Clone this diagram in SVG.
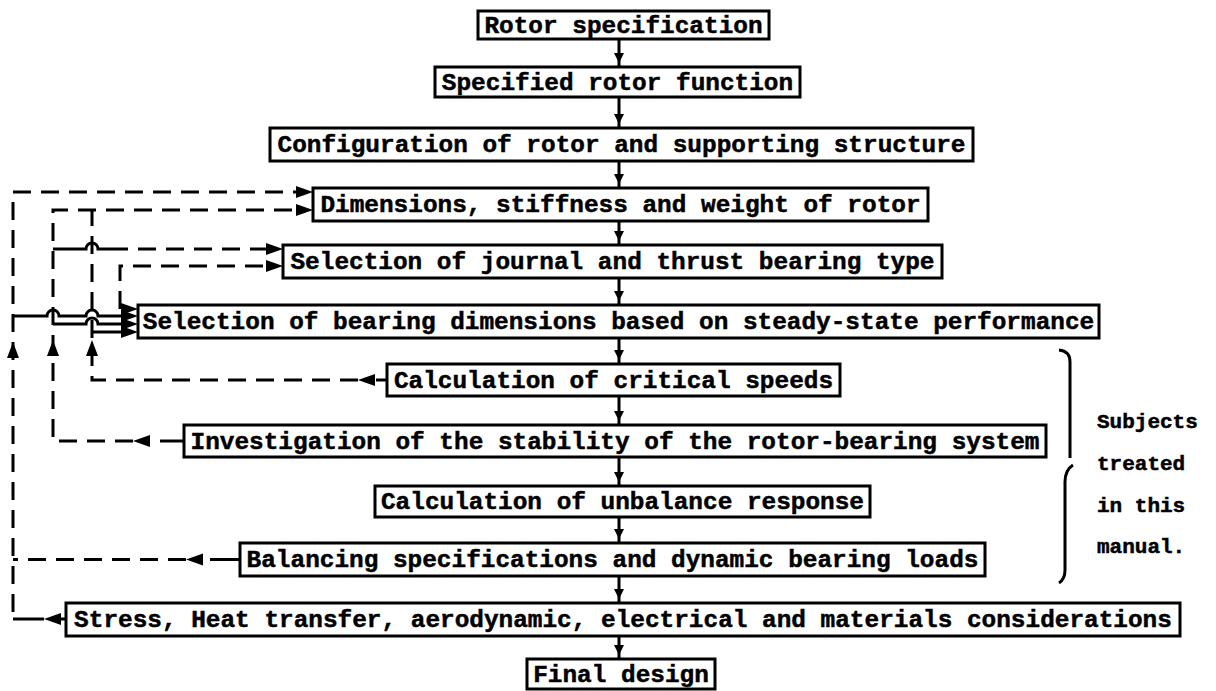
<svg xmlns="http://www.w3.org/2000/svg" xmlns:xlink="http://www.w3.org/1999/xlink" width="1216" height="691" viewBox="0 0 1216 691">
<style>
.bg{fill:#fff}
.box{fill:#fff;stroke:#000;stroke-width:3}
.t{font-family:"Liberation Mono","DejaVu Sans Mono",monospace;font-weight:bold;font-size:24.4px;fill:#000;stroke:#000;stroke-width:0.5;text-anchor:middle}
.side{font-family:"Liberation Mono","DejaVu Sans Mono",monospace;font-weight:bold;font-size:21px;fill:#000;stroke:#000;stroke-width:0.5}
.ln{fill:none;stroke:#000;stroke-width:3}
.dash{fill:none;stroke:#000;stroke-width:3;stroke-dasharray:18 10}
.ah{fill:#000}
</style>
<defs>
<path id="aR" class="ah" d="M0,0 L-17,-6 L-17,6 Z"/>
<path id="aL" class="ah" d="M0,0 L17,-6 L17,6 Z"/>
<path id="aU" class="ah" d="M0,0 L-6,16 L6,16 Z"/>
<path id="aD" class="ah" d="M0,0 L-5,-10 L5,-10 Z"/>
</defs>
<rect class="bg" x="0" y="0" width="1216" height="691"/>

<g id="connectors">
  <!-- main vertical flow -->
  <path class="ln" d="M619,39V67M619,97V128M619,161V188M619,221V245M619,278V305M619,338V364M619,396V425M619,457V486M619,517V543M619,576V603M619,636V659"/>
  <use xlink:href="#aD" x="619" y="63"/>
  <use xlink:href="#aD" x="619" y="124"/>
  <use xlink:href="#aD" x="619" y="184"/>
  <use xlink:href="#aD" x="619" y="241"/>
  <use xlink:href="#aD" x="619" y="301"/>
  <use xlink:href="#aD" x="619" y="360"/>
  <use xlink:href="#aD" x="619" y="421"/>
  <use xlink:href="#aD" x="619" y="482"/>
  <use xlink:href="#aD" x="619" y="539"/>
  <use xlink:href="#aD" x="619" y="599"/>
  <use xlink:href="#aD" x="619" y="655"/>

  <!-- Feedback line A (outermost, x=13): Stress and Balancing -> Dimensions, Bearing dims -->
  <path class="ln" d="M13,619H44M60,619H66"/>
  <path class="dash" d="M13,612V192H297"/>
  <use xlink:href="#aL" x="44" y="619"/>
  <use xlink:href="#aR" x="313" y="192"/>
  <use xlink:href="#aU" x="13" y="342"/>
  <path class="dash" d="M186,559.5H13"/>
  <path class="ln" d="M210,559.5H240"/>
  <use xlink:href="#aL" x="186" y="559.5"/>
  <path class="ln" d="M13,316H47A6,6 0 0 1 59,316H86A6,6 0 0 1 98,316H104"/>
  <path class="dash" d="M104,316H121"/>
  <use xlink:href="#aR" x="138" y="316"/>

  <!-- Feedback line B (x=53): Investigation -> Dimensions, Journal, Bearing dims -->
  <path class="dash" d="M133,441H53V210H297"/>
  <path class="ln" d="M160,441H184"/>
  <use xlink:href="#aL" x="133" y="441"/>
  <use xlink:href="#aR" x="313" y="210"/>
  <use xlink:href="#aU" x="53" y="340"/>
  <path class="ln" d="M53,249H86A6,6 0 0 1 98,249H110"/>
  <path class="dash" d="M110,249H267"/>
  <use xlink:href="#aR" x="283" y="249"/>
  <path class="ln" d="M53,324H86A6,6 0 0 1 98,324H121"/>
  <use xlink:href="#aR" x="138" y="324"/>

  <!-- Feedback line C (x=92): Critical speeds -> Dimensions, Bearing dims -->
  <path class="dash" d="M358,380H92V210"/>
  <path class="ln" d="M376,380H387"/>
  <use xlink:href="#aL" x="358" y="380"/>
  <use xlink:href="#aU" x="92" y="340"/>
  <path class="ln" d="M92,332H121"/>
  <use xlink:href="#aR" x="138" y="332"/>

  <!-- Line D (x=120): Journal and Bearing dims -->
  <path class="dash" d="M120,309V266H267"/>
  <use xlink:href="#aR" x="283" y="266"/>
  <use xlink:href="#aR" x="138" y="309"/>
</g>

<g id="n1"><rect class="box" x="478" y="11" width="291" height="28"/><text class="t" x="623.5" y="33">Rotor specification</text></g>
<g id="n2"><rect class="box" x="435" y="67" width="365" height="30"/><text class="t" x="617.5" y="90">Specified rotor function</text></g>
<g id="n3"><rect class="box" x="270" y="128" width="703" height="33"/><text class="t" x="621.5" y="152">Configuration of rotor and supporting structure</text></g>
<g id="n4"><rect class="box" x="313" y="188" width="615" height="33"/><text class="t" x="620.5" y="212">Dimensions, stiffness and weight of rotor</text></g>
<g id="n5"><rect class="box" x="283" y="245" width="659" height="33"/><text class="t" x="612.5" y="269">Selection of journal and thrust bearing type</text></g>
<g id="n6"><rect class="box" x="138" y="305" width="961" height="33"/><text class="t" x="618.5" y="329">Selection of bearing dimensions based on steady-state performance</text></g>
<g id="n7"><rect class="box" x="387" y="364" width="453" height="32"/><text class="t" x="613.5" y="388">Calculation of critical speeds</text></g>
<g id="n8"><rect class="box" x="184" y="425" width="862" height="32"/><text class="t" x="615" y="449">Investigation of the stability of the rotor-bearing system</text></g>
<g id="n9"><rect class="box" x="375" y="486" width="495" height="31"/><text class="t" x="622.5" y="509">Calculation of unbalance response</text></g>
<g id="n10"><rect class="box" x="240" y="543" width="745" height="33"/><text class="t" x="612.5" y="567">Balancing specifications and dynamic bearing loads</text></g>
<g id="n11"><rect class="box" x="66" y="603" width="1114" height="33"/><text class="t" x="623" y="627">Stress, Heat transfer, aerodynamic, electrical and materials considerations</text></g>
<g id="n12"><rect class="box" x="527" y="659" width="188" height="30"/><text class="t" x="621" y="682">Final design</text></g>

<g id="brace">
  <path class="ln" d="M1059,350Q1070,351 1070,362V458"/>
  <path class="ln" d="M1073,465Q1065,470 1065,482V570Q1065,579 1059,583"/>
</g>
<g id="note">
  <text class="side" x="1097" y="428">Subjects</text>
  <text class="side" x="1097" y="470">treated</text>
  <text class="side" x="1097" y="512">in this</text>
  <text class="side" x="1097" y="553">manual.</text>
</g>
</svg>
